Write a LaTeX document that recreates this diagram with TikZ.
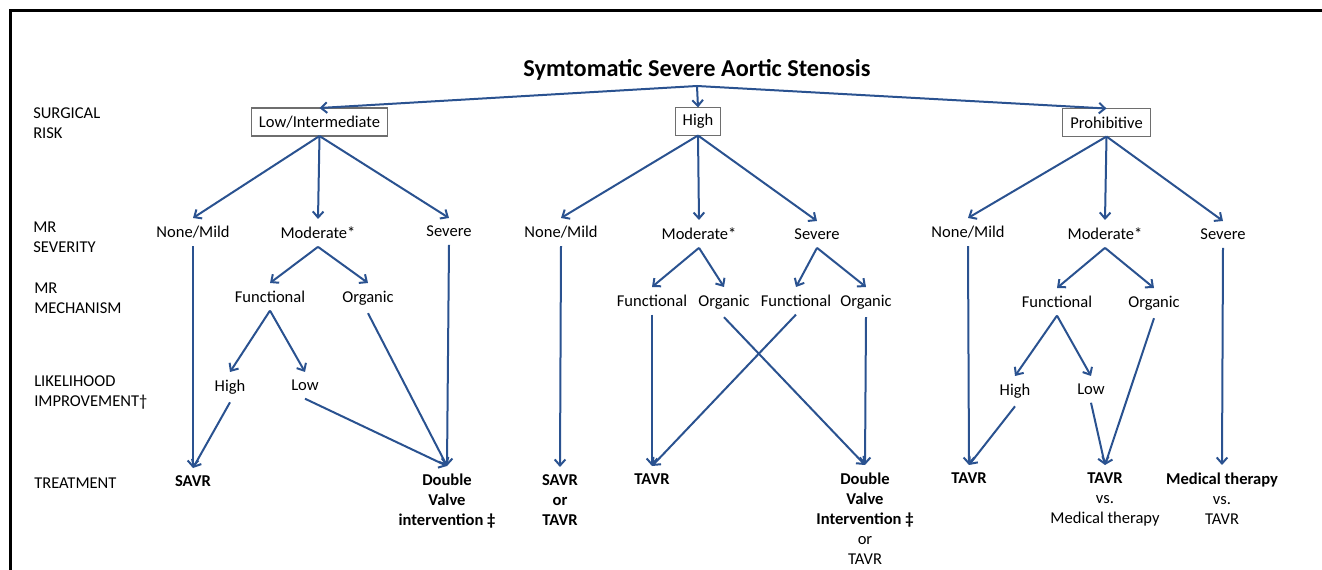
\documentclass[tikz,border=0pt]{standalone}
\usepackage{fontspec}
\setmainfont{Carlito}
\usetikzlibrary{arrows.meta}
\definecolor{arr}{HTML}{2A5290}
\definecolor{boxc}{RGB}{110,110,110}
\newcommand\dfont{\fontsize{12.4}{15}\selectfont}
\begin{document}
\begin{tikzpicture}[x=0.75pt,y=-0.75pt,
  lbl/.style={font=\dfont, inner sep=0pt, outer sep=6pt, align=center, anchor=north},
  tbl/.style={lbl, font=\dfont\bfseries},
  riskbox/.style={draw=boxc, line width=0.8pt, font=\dfont, inner xsep=5.5pt, inner ysep=0pt, minimum height=21pt, outer sep=0pt},
  con/.style={draw=arr, line width=1.5pt, -{Straight Barb[length=4.5pt,width=8pt]}},
  rowlbl/.style={font=\dfont, anchor=west, align=left, inner sep=0pt}]
\useasboundingbox (0,0) rectangle (1322,570);
% frame
\draw[line width=1.8pt] (10.5,570) -- (10.5,10.5) -- (1322,10.5);
% title
\node[font=\fontsize{18.2}{22}\selectfont\bfseries, inner sep=0pt] (title) at (697,70) {Symtomatic Severe Aortic Stenosis};
\coordinate (j) at (697,86);
% row labels
\node[rowlbl] (r1) at (33,123) {SURGICAL\\RISK};
\node[rowlbl] (r2) at (33,237) {MR\\SEVERITY};
\node[rowlbl] (r3) at (34,298.5) {MR\\MECHANISM};
\node[rowlbl] (r4) at (34,393) {LIKELIHOOD\\IMPROVEMENT†};
\node[rowlbl] (r5) at (34,483) {TREATMENT};
% risk boxes
\node[riskbox] (lowbox) at (319.5,122) {Low/Intermediate};
\node[riskbox] (highbox) at (698,121.5) {High};
\node[riskbox] (probox) at (1106.5,122.5) {Prohibitive};
% MR severity
\node[lbl] (lnone) at (193,218) {None/Mild};
\node[lbl] (lmod) at (318,219) {Moderate*};
\node[lbl] (lsev) at (449,218) {Severe};
\node[lbl] (hnone) at (561,218) {None/Mild};
\node[lbl] (hmod) at (699,220) {Moderate*};
\node[lbl] (hsev) at (817,221) {Severe};
\node[lbl] (pnone) at (968,218) {None/Mild};
\node[lbl] (pmod) at (1105,220) {Moderate*};
\node[lbl] (psev) at (1223,221) {Severe};
% MR mechanism
\node[lbl] (lfun) at (270,283) {Functional};
\node[lbl] (lorg) at (368,283) {Organic};
\node[lbl] (hfun1) at (652,287) {Functional};
\node[lbl] (horg1) at (724,287) {Organic};
\node[lbl] (hfun2) at (796,287) {Functional};
\node[lbl] (horg2) at (866,287) {Organic};
\node[lbl] (pfun) at (1057,288) {Functional};
\node[lbl] (porg) at (1154,288) {Organic};
% likelihood
\node[lbl] (lhigh) at (230,372) {High};
\node[lbl] (llow) at (305,372) {Low};
\node[lbl] (phigh) at (1015,376) {High};
\node[lbl] (plow) at (1091,376) {Low};
% treatment
\node[tbl] (lsavr) at (193,468) {SAVR};
\node[tbl] (ldvi) at (447,466) {Double\\Valve\\intervention ‡};
\node[tbl] (hsot) at (560,467) {SAVR\\or\\TAVR};
\node[tbl] (htavr) at (652,466) {TAVR};
\node[tbl] (hdvi) at (865,465) {Double\\Valve\\Intervention ‡\\{\mdseries or}\\{\mdseries TAVR}};
\node[tbl] (ptavr) at (969,465) {TAVR};
\node[lbl] (ptvm) at (1105,465) {\textbf{TAVR}\\vs.\\Medical therapy};
\node[lbl] (pmvt) at (1222,465) {\textbf{Medical therapy}\\vs.\\TAVR};
% connectors
\draw[con] (j) -- (lowbox.north);
\draw[con] (j) -- (highbox.north);
\draw[con] (j) -- (probox.north);
\foreach \s/\t in {lowbox/lnone, lowbox/lmod, lowbox/lsev,
  highbox/hnone, highbox/hmod, highbox/hsev,
  probox/pnone, probox/pmod, probox/psev,
  lmod/lfun, lmod/lorg, hmod/hfun1, hmod/horg1, hsev/hfun2, hsev/horg2,
  pmod/pfun, pmod/porg, lfun/lhigh, lfun/llow, pfun/phigh, pfun/plow,
  lnone/lsavr, lhigh/lsavr, llow/ldvi, lorg/ldvi, lsev/ldvi,
  hnone/hsot, hfun1/htavr, hfun2/htavr, horg1/hdvi, horg2/hdvi,
  pnone/ptavr, phigh/ptavr, plow/ptvm, porg/ptvm, psev/pmvt}
  \draw[con] (\s.south) -- (\t.north);
\end{tikzpicture}
\end{document}
